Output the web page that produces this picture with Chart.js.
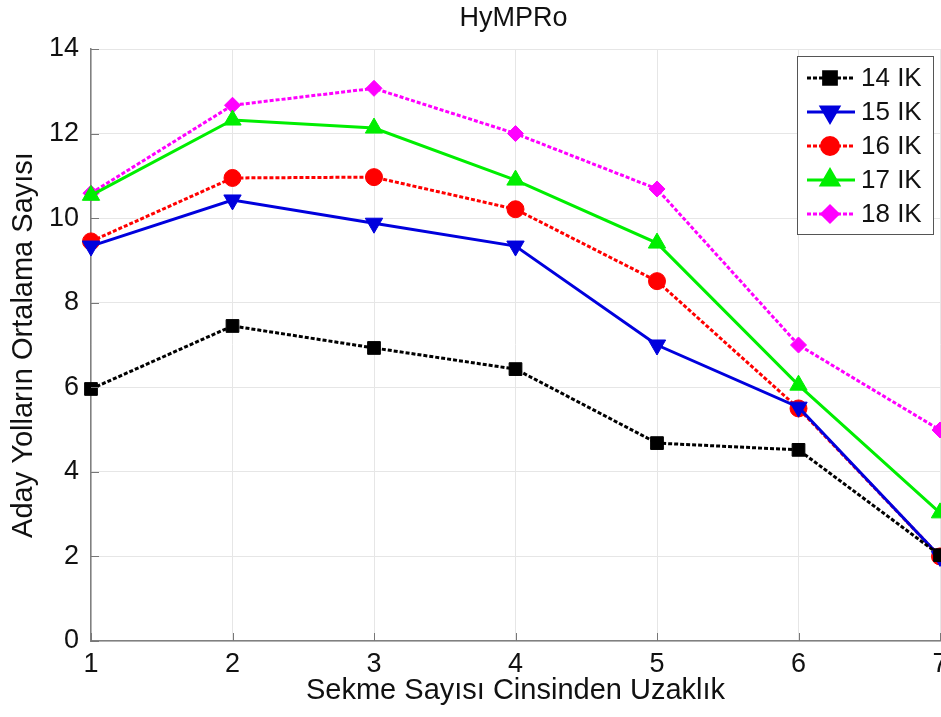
<!DOCTYPE html>
<html>
<head>
<meta charset="utf-8">
<script src="https://cdn.jsdelivr.net/npm/chart.js@4.4.1/dist/chart.umd.min.js"></script>
<style>
  html, body { margin: 0; padding: 0; background: #fff; overflow: hidden; }
  #wrap { width: 941px; height: 717px; overflow: hidden; position: relative; }
  #box { width: 1000px; height: 717px; }
</style>
</head>
<body>
<div id="wrap"><div id="box"><canvas id="chart"></canvas></div></div>
<script>
// hop distance on the x axis
const hops = [1, 2, 3, 4, 5, 6, 7];
const yTicks = [0, 2, 4, 6, 8, 10, 12, 14];

// average candidate path counts
const ik14 = [5.96, 7.45, 6.93, 6.43, 4.68, 4.52, 2.03];
const ik15 = [9.34, 10.43, 9.88, 9.34, 7.0, 5.53, 2.0];
const ik16 = [9.45, 10.95, 10.97, 10.21, 8.51, 5.5, 2.0];
const ik17 = [10.54, 12.32, 12.13, 10.9, 9.41, 6.05, 3.03];
const ik18 = [10.59, 12.67, 13.07, 12.0, 10.69, 7.0, 4.99];

const seriesLabels = ['14 IK', '15 IK', '16 IK', '17 IK', '18 IK'];
const chartTitle = 'HyMPRo';

const FONT = "'Liberation Sans', Arial, sans-serif";
Chart.defaults.font.family = FONT;
Chart.defaults.color = '#111';

function toXY(values) {
  return values.map((v, i) => ({ x: hops[i], y: v }));
}

const datasets = [
  { label: seriesLabels[0], data: toXY(ik14), borderColor: '#000', backgroundColor: '#000',
    borderDash: [4, 2], pointStyle: 'rect', pointRadius: 9, pointRotation: 0 },
  { label: seriesLabels[1], data: toXY(ik15), borderColor: '#0000dd', backgroundColor: '#0000dd',
    borderDash: [], pointStyle: 'triangle', pointRadius: 10, pointRotation: 180 },
  { label: seriesLabels[2], data: toXY(ik16), borderColor: '#f00', backgroundColor: '#f00',
    borderDash: [4, 2], pointStyle: 'circle', pointRadius: 8.5, pointRotation: 0 },
  { label: seriesLabels[3], data: toXY(ik17), borderColor: '#00ee00', backgroundColor: '#00ee00',
    borderDash: [], pointStyle: 'triangle', pointRadius: 10, pointRotation: 0 },
  { label: seriesLabels[4], data: toXY(ik18), borderColor: '#ff00ff', backgroundColor: '#ff00ff',
    borderDash: [4, 2], pointStyle: 'rectRot', pointRadius: 8, pointRotation: 0 }
].map(d => Object.assign(d, {
  borderWidth: 3,
  pointBorderWidth: 1,
  pointBorderColor: d.borderColor,
  pointHoverRadius: d.pointRadius,
  tension: 0,
  clip: false
}));

// title centred over the plot area
const plotTitle = {
  id: 'plotTitle',
  afterDraw(chart) {
    const { ctx, chartArea: a } = chart;
    ctx.save();
    ctx.font = '27px ' + FONT;
    ctx.fillStyle = '#111';
    ctx.textAlign = 'center';
    ctx.textBaseline = 'middle';
    ctx.fillText(chartTitle, (a.left + a.right) / 2 - 2, 19);
    ctx.restore();
  }
};

// MATLAB style inward ticks
const innerTicks = {
  id: 'innerTicks',
  afterDatasetsDraw(chart) {
    const { ctx, chartArea: a, scales: { x, y } } = chart;
    ctx.save();
    ctx.strokeStyle = '#777';
    ctx.lineWidth = 1;
    ctx.beginPath();
    hops.forEach(h => {
      const px = Math.round(x.getPixelForValue(h)) + 0.5;
      ctx.moveTo(px, a.bottom); ctx.lineTo(px, a.bottom - 8);
    });
    yTicks.forEach(t => {
      const py = Math.round(y.getPixelForValue(t)) + 0.5;
      ctx.moveTo(a.left, py); ctx.lineTo(a.left + 8, py);
    });
    ctx.stroke();
    ctx.restore();
  }
};

// legend box drawn inside the plot, top right
const boxLegend = {
  id: 'boxLegend',
  afterDraw(chart) {
    const ctx = chart.ctx;
    const left = 797, top = 56, w = 136, h = 178;
    ctx.save();
    ctx.fillStyle = '#fff';
    ctx.fillRect(left, top, w, h);
    ctx.strokeStyle = '#555';
    ctx.lineWidth = 1;
    ctx.strokeRect(left + 0.5, top + 0.5, w, h);
    ctx.font = '26px ' + FONT;
    ctx.textBaseline = 'middle';
    chart.data.datasets.forEach((ds, i) => {
      const cy = top + 22 + i * 34;
      ctx.strokeStyle = ds.borderColor;
      ctx.lineWidth = 3;
      ctx.setLineDash(ds.borderDash);
      ctx.beginPath();
      ctx.moveTo(807, cy); ctx.lineTo(855, cy);
      ctx.stroke();
      ctx.setLineDash([]);
      Chart.helpers.drawPoint(ctx, {
        pointStyle: ds.pointStyle, radius: ds.pointRadius,
        rotation: ds.pointRotation, borderWidth: 1
      }, 830, cy);
      ctx.fillStyle = ds.backgroundColor;
      ctx.fill();
      ctx.fillStyle = '#111';
      ctx.fillText(ds.label, 861, cy + 1);
    });
    ctx.restore();
  }
};

new Chart(document.getElementById('chart'), {
  type: 'line',
  data: { datasets },
  options: {
    responsive: true,
    maintainAspectRatio: false,
    animation: false,
    layout: { padding: { top: 49, right: 60, bottom: 0, left: 0 } },
    plugins: {
      legend: { display: false },
      tooltip: { enabled: false },
      title: { display: false }
    },
    scales: {
      x: {
        type: 'linear', min: 1, max: 7,
        afterBuildTicks: s => { s.ticks = hops.map(v => ({ value: v })); },
        afterFit: s => { s.height = 76; },
        grid: { color: '#e6e6e6', tickLength: 0 },
        border: { color: '#808080', width: 1.5 },
        ticks: { font: { size: 27 }, color: '#111', padding: 7, maxRotation: 0 },
        title: {
          display: true, text: 'Sekme Sayısı Cinsinden Uzaklık', color: '#111',
          font: { size: 29 }, padding: { top: 0, bottom: 9 }
        }
      },
      y: {
        min: 0, max: 14,
        afterBuildTicks: s => { s.ticks = yTicks.map(v => ({ value: v })); },
        afterFit: s => { s.width = 91; },
        grid: { color: '#e6e6e6', tickLength: 0 },
        border: { color: '#808080', width: 1.5 },
        ticks: { font: { size: 27 }, color: '#111', padding: 12 },
        title: {
          display: true, text: 'Aday Yolların Ortalama Sayısı', color: '#111',
          font: { size: 29 }, padding: { top: 7, bottom: 0 }
        }
      }
    }
  },
  plugins: [innerTicks, boxLegend, plotTitle]
});
</script>
</body>
</html>
